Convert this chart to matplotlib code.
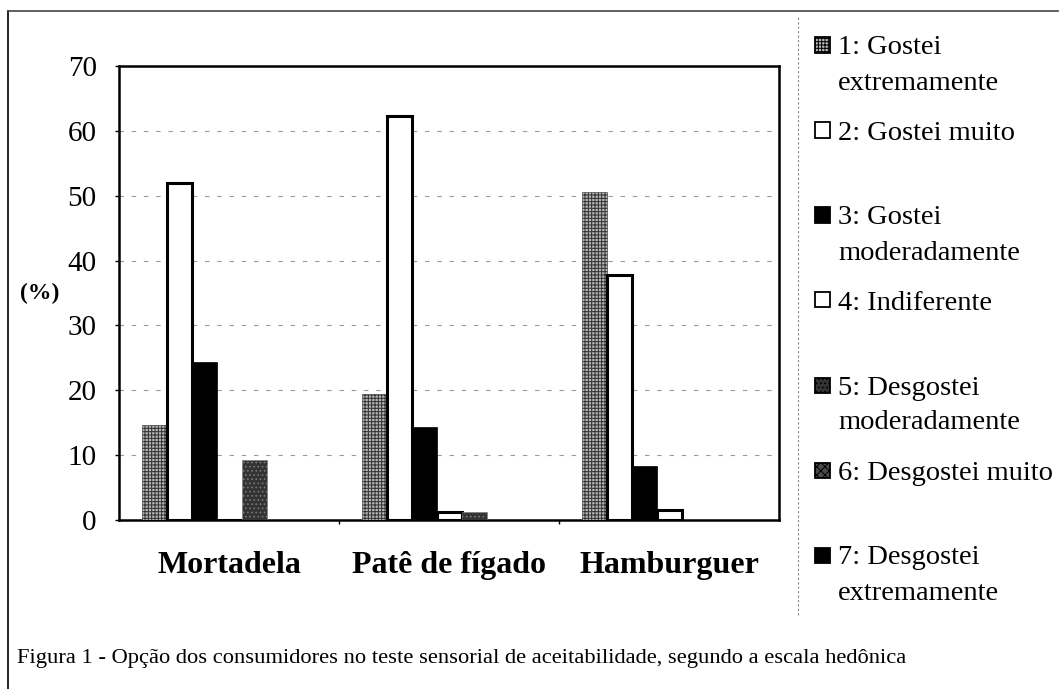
import numpy as np
import matplotlib
matplotlib.use("Agg")
import matplotlib.pyplot as plt
from matplotlib.patches import Rectangle
from matplotlib.lines import Line2D

plt.rcParams['font.family'] = ['Liberation Serif', 'DejaVu Serif']
plt.rcParams['hatch.linewidth'] = 0.7

categories = ['Mortadela', 'Patê de fígado', 'Hamburguer']
s1 = [14.7, 19.4, 50.6]
s2 = [52.0, 62.3, 37.8]
s3 = [24.3, 14.3, 8.3]
s4 = [0.0, 1.3, 1.5]
s5 = [9.3, 1.3, 0.0]
s6 = [0.0, 0.0, 0.0]
s7 = [0.0, 0.0, 0.0]
series = [s1, s2, s3, s4, s5, s6, s7]
legend_lines = [["1: Gostei", "extremamente"],
                ["2: Gostei muito"],
                ["3: Gostei", "moderadamente"],
                ["4: Indiferente"],
                ["5: Desgostei", "moderadamente"],
                ["6: Desgostei muito"],
                ["7: Desgostei", "extremamente"]]
yticks = [0, 10, 20, 30, 40, 50, 60, 70]
caption = "Figura 1 - Opção dos consumidores no teste sensorial de aceitabilidade, segundo a escala hedônica"

# style per series: facecolor, edgecolor, linewidth, hatch
styles = [dict(facecolor='#b4b4b4', edgecolor='#333333', linewidth=0.4, hatch='+++++'),
          dict(facecolor='white', edgecolor='black', linewidth=2.2, hatch=None),
          dict(facecolor='black', edgecolor='black', linewidth=0.5, hatch=None),
          dict(facecolor='white', edgecolor='black', linewidth=2.2, hatch=None),
          dict(facecolor='#333333', edgecolor='#7a7a7a', linewidth=0.4, hatch='....'),
          dict(facecolor='#4a4a4a', edgecolor='#a0a0a0', linewidth=0.4, hatch='xxxx'),
          dict(facecolor='black', edgecolor='black', linewidth=0.5, hatch=None)]

W, H = 1064, 689
fig = plt.figure(figsize=(W / 100, H / 100), dpi=100)
ax = fig.add_axes([119 / W, 1 - 520 / H, 660 / W, 454 / H])

x = np.arange(len(categories))
w = 25 / 220
for i, (vals, st) in enumerate(zip(series, styles)):
    ax.bar(x + (i - 3) * w, vals, w, zorder=3, **st)

ax.set_xlim(-0.5, 2.5)
ax.set_ylim(0, 70)
ax.set_yticks(yticks)
ax.set_yticklabels([str(t) for t in yticks], fontsize=21)
ax.tick_params(axis='y', direction='out', length=3, width=1, pad=13)
ax.set_xticks(x)
ax.set_xticklabels(categories, fontsize=23, fontweight='bold')
ax.tick_params(axis='x', which='major', length=0, pad=22)
ax.set_xticks([0.5, 1.5], minor=True)
ax.tick_params(axis='x', which='minor', direction='out', length=3, width=1)
for t in yticks[1:-1]:
    ax.axhline(t, color='#9a9a9a', lw=0.8, ls=(0, (4, 7)), zorder=1)
for sp in ax.spines.values():
    sp.set_linewidth(1.8)
    sp.set_color('black')

fig.text(40 / W, 1 - 293 / H, "(%)", fontsize=17, fontweight='bold',
         ha='center', va='center')

# legend on the right
first_line_y = [45, 130, 215, 300, 385, 470, 555]
for lines, y0, st in zip(legend_lines, first_line_y, styles):
    sq = 15
    fig.patches.append(Rectangle((815 / W, 1 - (y0 + sq / 2) / H), sq / W, sq / H,
                                 transform=fig.transFigure,
                                 facecolor=st['facecolor'], edgecolor='black',
                                 linewidth=1.3, hatch=st['hatch']))
    for k, line in enumerate(lines):
        fig.text(838 / W, 1 - (y0 + 35 * k) / H, line, fontsize=20.5,
                 ha='left', va='center_baseline')

# frame and separator
fig.add_artist(Line2D([8 / W, 8 / W], [0, 1 - 11 / H], color='black', lw=1.2))
fig.add_artist(Line2D([8 / W, 1058 / W], [1 - 11 / H, 1 - 11 / H], color='#444444', lw=1.2))
fig.add_artist(Line2D([798 / W, 798 / W], [1 - 615 / H, 1 - 15 / H], color='#888888',
                      lw=0.8, ls=(0, (2, 2))))

fig.text(17 / W, 1 - 658 / H, caption, fontsize=16.2, ha='left', va='center')

fig.savefig("out.png", dpi=100, facecolor='white')
